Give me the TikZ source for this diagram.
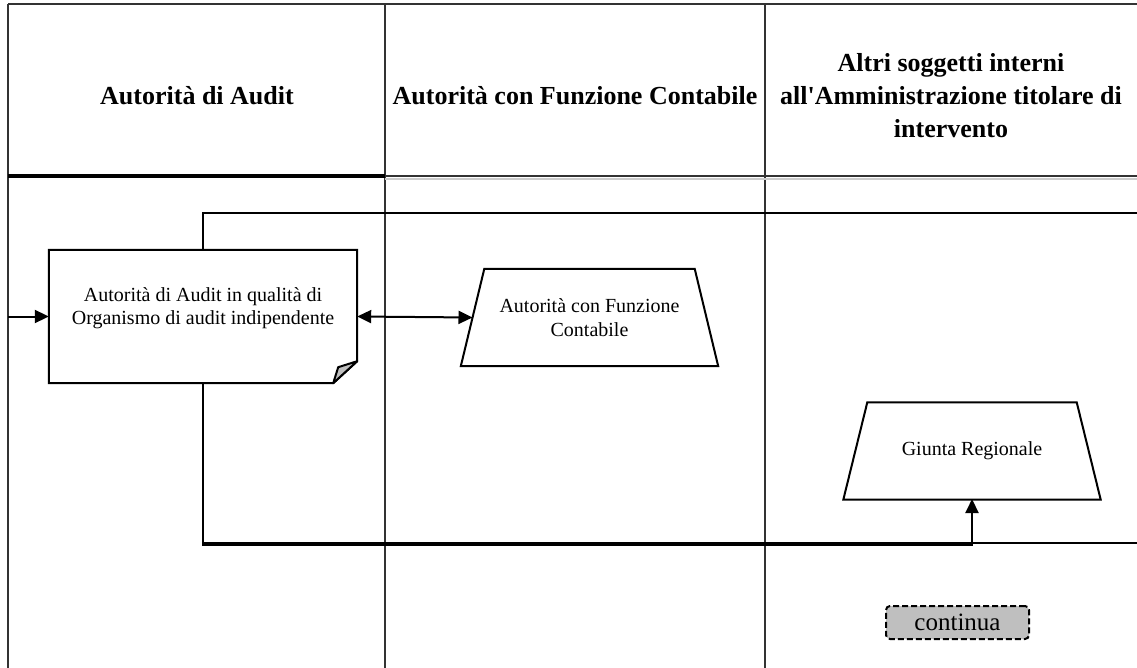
\documentclass[tikz,border=0pt]{standalone}
\usepackage{fontspec}
\setmainfont{Liberation Serif}
\usetikzlibrary{arrows.meta,calc}
\begin{document}
\begin{tikzpicture}[x=1pt,y=-1pt,
  lane/.style={draw=black!80,line width=2.2pt},
  hdr/.style={font=\fontsize{26}{33}\selectfont\bfseries,align=center,inner sep=0},
  body/.style={font=\fontsize{20}{23.5}\selectfont,align=center,inner sep=0},
  procbox/.style={minimum width=257pt,minimum height=97pt,inner sep=0},
  outline/.style={line width=2pt,draw=black},
  conn/.style={line width=2pt,draw=black},
  tipend/.style={-{Triangle[length=14pt,width=13pt]}},
  tipboth/.style={{Triangle[length=14pt,width=13pt]}-{Triangle[length=14pt,width=13pt]}},
  contbox/.style={draw,dash pattern=on 6pt off 3pt,rounded corners=4pt,fill=black!25,line width=2pt,
    minimum width=143pt,minimum height=33pt,font=\fontsize{25}{30}\selectfont,inner sep=0},
]
\useasboundingbox (0,0) rectangle (1137,668);
\fill[white] (0,0) rectangle (1137,668);
% swimlanes
\draw[lane] (8,4) -- (1137,4);
\draw[lane] (8,4) -- (8,668);
\draw[lane] (385,4) -- (385,668);
\draw[lane] (765,4) -- (765,668);
\draw[black!20,line width=2pt] (385,179) -- (1137,179);
\draw[lane] (385,176) -- (1137,176);
\draw[black,line width=4.5pt] (8,176) -- (385,176);
% headers
\node[hdr] (h1) at (197,96) {Autorità di Audit};
\node[hdr] (h2) at (575,96) {Autorità con Funzione Contabile};
\node[hdr] (h3) at (951,96) {Altri soggetti interni\\all\textquotesingle Amministrazione titolare di\\intervento};
% coordinates for free ends
\coordinate (inL) at (8,316.5);
\coordinate (outTop) at (1137,213);
\coordinate (inBot) at (1137,542.5);
% audit document node
\node[minimum width=308pt,minimum height=133pt,inner sep=0] (audit) at (203,316.5) {};
\draw[conn] (audit.north) -- (audit.north |- outTop) -- (outTop);
\draw[conn] (inBot) -- (audit.south |- inBot);
\draw[conn,tipend] (audit.south) -- ++(0,162) -| (972,499);
\draw[outline,fill=white] (audit.north west) -- (audit.north east) -- ($(audit.south east)+(0,-22)$)
  -- ($(audit.south east)+(-24,0)$) -- (audit.south west) -- cycle;
\draw[outline,fill=black!25,line join=round] ($(audit.south east)+(0,-22)$) -- ($(audit.south east)+(-24,0)$)
  -- ($(audit.south east)+(-19,-16)$) -- cycle;
\node[body] (audittxt) at (203,308) {Autorità di Audit in qualità di\\Organismo di audit indipendente};
% processes (trapezia)
\node[procbox] (cont) at (589.5,317.5) {};
\draw[outline,fill=white] ($(cont.north west)+(23.5,0)$) -- ($(cont.north east)+(-23.5,0)$)
  -- (cont.south east) -- (cont.south west) -- cycle;
\node[body] (conttxt) at (cont.center) {Autorità con Funzione\\Contabile};
\node[procbox] (giunta) at (972,451) {};
\draw[outline,fill=white] ($(giunta.north west)+(24,0)$) -- ($(giunta.north east)+(-24,0)$)
  -- (giunta.south east) -- (giunta.south west) -- cycle;
\node[body] (giuntatxt) at (giunta.center) {Giunta Regionale};
\node[contbox] (continua) at (957.5,622.5) {continua};
% arrows
\draw[conn,tipend] (inL) -- (audit.west);
\draw[conn,tipboth] (audit.east) -- (472.5,317.5);
\end{tikzpicture}
\end{document}
